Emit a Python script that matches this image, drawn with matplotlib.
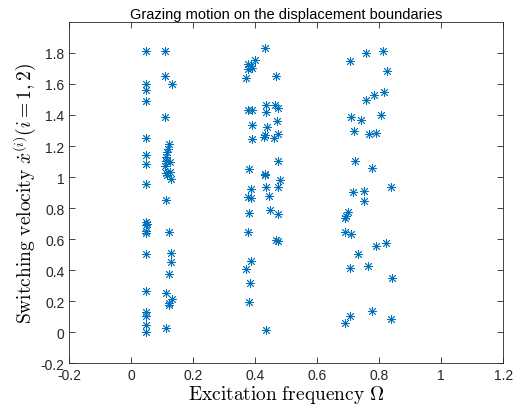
import matplotlib
matplotlib.use('Agg')
import matplotlib.pyplot as plt

# Pontos de impacto (frequencia de excitacao, velocidade de chaveamento)
omega_1 = [0.049, 0.109, 0.049, 0.049, 0.049, 0.109, 0.131, 0.109, 0.048, 0.048,
           0.048, 0.047, 0.121, 0.117, 0.115, 0.113, 0.111, 0.125, 0.110, 0.112,
           0.116, 0.124, 0.127, 0.112, 0.048, 0.050, 0.046, 0.048, 0.048, 0.048,
           0.048, 0.048, 0.048, 0.048, 0.047, 0.122, 0.128, 0.128, 0.121, 0.113,
           0.131, 0.122, 0.121, 0.113]
vel_1 = [1.81, 1.815, 1.60, 1.56, 1.49, 1.65, 1.60, 1.39, 1.25, 1.14,
         1.086, 0.953, 1.21, 1.18, 1.16, 1.13, 1.105, 1.095, 1.07, 1.026,
         1.01, 1.034, 0.987, 0.853, 0.71, 0.70, 0.69, 0.652, 0.637, 0.505,
         0.265, 0.127, 0.105, 0.045, 0.002, 0.643, 0.51, 0.45, 0.376, 0.252,
         0.213, 0.187, 0.174, 0.026]

omega_2 = [0.431, 0.399, 0.376, 0.386, 0.378, 0.390, 0.370, 0.468, 0.375, 0.390,
           0.435, 0.464, 0.473, 0.434, 0.470, 0.388, 0.438, 0.431, 0.427, 0.388,
           0.459, 0.474, 0.473, 0.380, 0.430, 0.432, 0.481, 0.386, 0.436, 0.473,
           0.377, 0.387, 0.444, 0.380, 0.449, 0.473, 0.375, 0.467, 0.473, 0.385,
           0.370, 0.383, 0.379, 0.435]
vel_2 = [1.832, 1.757, 1.729, 1.714, 1.697, 1.70, 1.637, 1.652, 1.432, 1.432,
         1.465, 1.465, 1.443, 1.417, 1.361, 1.335, 1.325, 1.271, 1.256, 1.245,
         1.254, 1.275, 1.105, 1.05, 1.019, 1.01, 0.983, 0.92, 0.937, 0.933,
         0.869, 0.863, 0.879, 0.766, 0.79, 0.761, 0.643, 0.592, 0.587, 0.458,
         0.406, 0.314, 0.192, 0.011]

omega_3 = [0.706, 0.756, 0.813, 0.824, 0.756, 0.783, 0.814, 0.710, 0.740, 0.805,
           0.718, 0.768, 0.791, 0.721, 0.776, 0.839, 0.715, 0.750, 0.750, 0.700,
           0.693, 0.690, 0.691, 0.709, 0.788, 0.821, 0.732, 0.707, 0.765, 0.840,
           0.775, 0.704, 0.689, 0.837]
vel_3 = [1.746, 1.798, 1.815, 1.684, 1.497, 1.529, 1.546, 1.385, 1.37, 1.40,
         1.295, 1.275, 1.284, 1.103, 1.06, 0.935, 0.905, 0.908, 0.847, 0.776,
         0.75, 0.737, 0.643, 0.632, 0.557, 0.572, 0.503, 0.411, 0.424, 0.348,
         0.137, 0.101, 0.058, 0.086]

x_ticks = [-0.2, 0, 0.2, 0.4, 0.6, 0.8, 1, 1.2]
y_ticks = [-0.2, 0, 0.2, 0.4, 0.6, 0.8, 1, 1.2, 1.4, 1.6, 1.8]

plt.rcParams['font.family'] = ['Liberation Sans', 'DejaVu Sans']
plt.rcParams['mathtext.fontset'] = 'cm'

fig = plt.figure(figsize=(5.21, 4.10), dpi=100)
ax = fig.add_axes([0.133, 0.112, 0.833, 0.832])

cor = '#0072BD'
for xs, ys in [(omega_1, vel_1), (omega_2, vel_2), (omega_3, vel_3)]:
    ax.plot(xs, ys, linestyle='none', marker=(8, 2, 0), markersize=6.5,
            markeredgewidth=0.6, color=cor)

ax.set_xlim(-0.2, 1.2)
ax.set_ylim(-0.2, 2.0)
ax.set_xticks(x_ticks)
ax.set_yticks(y_ticks)
ax.set_xticklabels(['-0.2', '0', '0.2', '0.4', '0.6', '0.8', '1', '1.2'])
ax.set_yticklabels(['-0.2', '0', '0.2', '0.4', '0.6', '0.8', '1', '1.2', '1.4', '1.6', '1.8'])
ax.tick_params(direction='in', length=4, width=0.6, labelsize=10, colors='#262626',
               top=True, right=True)
for s in ax.spines.values():
    s.set_linewidth(0.6)
    s.set_color('#262626')

ax.set_title('Grazing motion on the displacement boundaries', fontsize=10.5, pad=3)
ax.set_xlabel(r'$\mathrm{Excitation\ frequency}\ \Omega$', fontsize=14, labelpad=1)
ax.set_ylabel(r'$\mathrm{Switching\ velocity}\ \dot{x}^{(i)}(i=1,2)$', fontsize=14, labelpad=2)

fig.savefig('out.png', dpi=100)
